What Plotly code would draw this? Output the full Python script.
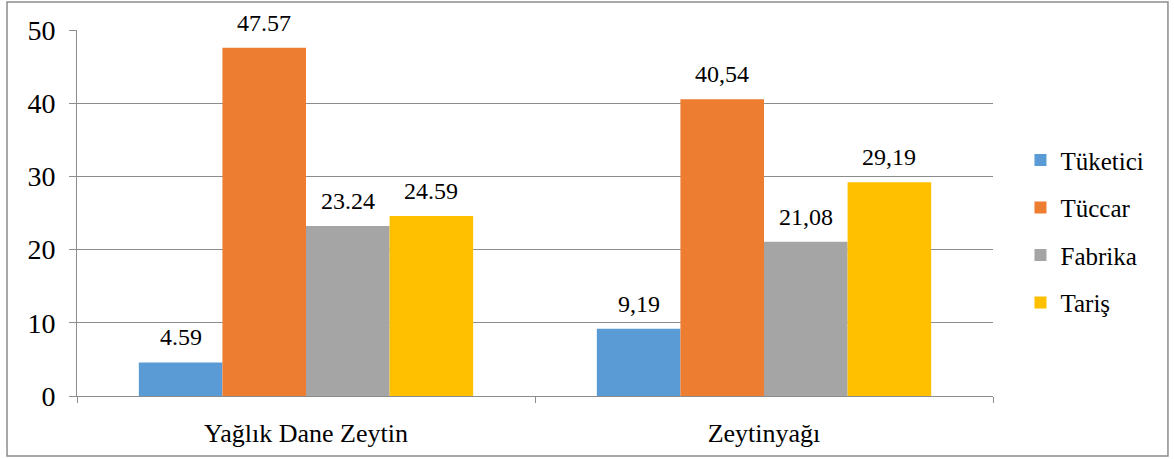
"""
Grouped bar chart: sales channels for olive products
"""
import plotly.graph_objects as go

categories = ["Yağlık Dane Zeytin", "Zeytinyağı"]
series = ["Tüketici", "Tüccar", "Fabrika", "Tariş"]
values = {
    "Tüketici": [4.59, 9.19],
    "Tüccar": [47.57, 40.54],
    "Fabrika": [23.24, 21.08],
    "Tariş": [24.59, 29.19],
}
labels = {
    "Tüketici": ["4.59", "9,19"],
    "Tüccar": ["47.57", "40,54"],
    "Fabrika": ["23.24", "21,08"],
    "Tariş": ["24.59", "29,19"],
}
colors = ["#5b9bd5", "#ed7d31", "#a5a5a5", "#ffc000"]

FONT = "Times New Roman"
W, H = 1174, 459
L, R, T, B = 77, 181, 30, 63
BARGAP = 0.27

fig = go.Figure()
for name, col in zip(series, colors):
    fig.add_trace(go.Bar(
        name=name, x=categories, y=values[name], marker_color=col,
        marker_line_width=0, legendgroup=name,
    ))

# value labels above each bar (a bit more gap than plotly's outside text)
bar_px = (W - L - R) / len(categories) * (1 - BARGAP) / len(series)
for i, name in enumerate(series):
    for cat, v, txt in zip(categories, values[name], labels[name]):
        fig.add_annotation(
            x=cat, y=v, text=txt, showarrow=False,
            xshift=(i - (len(series) - 1) / 2) * bar_px, yshift=10,
            yanchor="bottom", font=dict(family=FONT, size=24, color="black"),
        )

fig.update_layout(
    barmode="group", bargap=BARGAP, bargroupgap=0,
    width=W, height=H,
    margin=dict(l=L, r=R, t=T, b=B),
    paper_bgcolor="white", plot_bgcolor="white",
    font=dict(family=FONT, color="black"),
    legend=dict(x=1.03, y=0.45, yanchor="middle", xanchor="left",
                font=dict(family=FONT, size=25), tracegroupgap=12),
    showlegend=True,
)
fig.update_yaxes(range=[0, 50], dtick=10, showgrid=True, gridcolor="#8c8c8c",
                 gridwidth=1, showline=True, linecolor="#8c8c8c", linewidth=1,
                 ticks="outside", ticklen=7, tickcolor="#8c8c8c",
                 ticklabelstandoff=8,
                 tickfont=dict(family=FONT, size=28), zeroline=False)
fig.update_xaxes(showline=True, linecolor="#8c8c8c", linewidth=1,
                 ticks="outside", tickson="boundaries", ticklen=6,
                 tickcolor="#8c8c8c", ticklabelstandoff=14,
                 tickfont=dict(family=FONT, size=26))

# outer chart border
fig.add_shape(type="rect", xref="paper", yref="paper",
              x0=-0.0764, x1=1.191, y0=-0.164, y1=1.0765,
              line=dict(color="#8c8c8c", width=1.5))

fig.write_html("out.html", config={"displayModeBar": False},
               post_script="document.body.style.margin='0';")
